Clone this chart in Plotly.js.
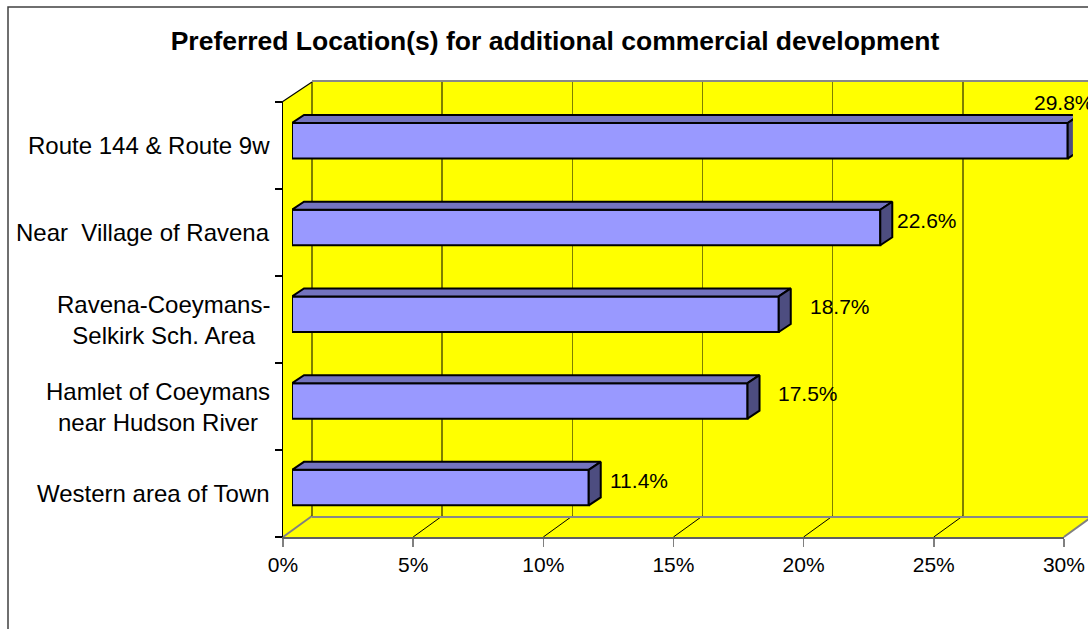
<!DOCTYPE html>
<html><head><meta charset="utf-8">
<script src="https://cdn.plot.ly/plotly-3.0.1.min.js"></script>
<style>html,body{margin:0;padding:0;background:#fff;}#chart{width:1088px;height:629px;}</style>
</head><body><div id="chart"></div>
<script>
// ---- data ----
const categories = ["Route 144 & Route 9w", "Near  Village of Ravena", "Ravena-Coeymans-<br>Selkirk Sch. Area", "Hamlet of Coeymans<br>near Hudson River", "Western area of Town"];
const values = [29.8, 22.6, 18.7, 17.5, 11.4];
const valueLabels = ["29.8%", "22.6%", "18.7%", "17.5%", "11.4%"];
const tickValues = [0, 5, 10, 15, 20, 25, 30];
const tickLabels = ["0%", "5%", "10%", "15%", "20%", "25%", "30%"];
const chartTitle = "Preferred Location(s) for additional commercial development";

// ---- layout geometry (pixels) ----
const W = 1088, H = 629;
const G = {
  scale: 26.03,          // px per percent
  frontX0: 283, frontTop: 102, frontBottom: 537,
  wallX0: 312, wallTop: 82, wallBottom: 516,
  barX0: 292, barCenter0: 140.8, barStep: 86.7, barWidth: 0.41,
  depthX: 12, depthY: 8
};
const labelDx = [-36, 15, 29, 28, 19];
const labelDy = [38, 7, 8, 7, 7];
const px = x => x / W;
const py = y => 1 - y / H;
const FONT = "Liberation Sans, Arial, sans-serif";

const idx = values.map((_, i) => i);
const dx = G.depthX / G.scale;
const dy = G.depthY / G.barStep;
const hw = G.barWidth / 2;

// 3D faces of bars (data coordinates)
const topX = [], topY = [], sideX = [], sideY = [];
values.forEach((v, i) => {
  const yt = i - hw, yb = i + hw;
  topX.push(0, v, v + dx, dx, 0, null);
  topY.push(yt, yt, yt - dy, yt - dy, yt, null);
  sideX.push(v, v + dx, v + dx, v, v, null);
  sideY.push(yt, yt - dy, yb - dy, yb, yt, null);
});

const traces = [
  {type: 'scatter', x: [], y: [], xaxis: 'x', yaxis: 'y', showlegend: false, hoverinfo: 'skip'},
  {type: 'scatter', x: [], y: [], xaxis: 'x2', yaxis: 'y2', showlegend: false, hoverinfo: 'skip'},
  {type: 'bar', orientation: 'h', x: values, y: idx, width: G.barWidth, xaxis: 'x3', yaxis: 'y3',
   marker: {color: '#9999FF', line: {color: '#000', width: 2}}, showlegend: false, hoverinfo: 'skip'},
  {type: 'scatter', mode: 'lines', x: topX, y: topY, fill: 'toself', fillcolor: '#7373BF',
   line: {color: '#000', width: 2}, xaxis: 'x3', yaxis: 'y3', showlegend: false, hoverinfo: 'skip'},
  {type: 'scatter', mode: 'lines', x: sideX, y: sideY, fill: 'toself', fillcolor: '#4D4D80',
   line: {color: '#000', width: 2}, xaxis: 'x3', yaxis: 'y3', showlegend: false, hoverinfo: 'skip'}
];

const frontX1 = G.frontX0 + 30 * G.scale;
const shapes = [];
const line = (x0, y0, x1, y1, color, width) => shapes.push({type: 'line', xref: 'paper', yref: 'paper', layer: 'below',
  x0: px(x0), y0: py(y0), x1: px(x1), y1: py(y1), line: {color: color, width: width}});
const poly = (pts, fill) => shapes.push({type: 'path', xref: 'paper', yref: 'paper', layer: 'below',
  path: 'M' + pts.map(p => px(p[0]) + ',' + py(p[1])).join('L') + 'Z', fillcolor: fill, line: {width: 0}});

// walls & floor
poly([[G.wallX0, G.wallTop], [W + 5, G.wallTop], [W + 5, G.wallBottom], [G.wallX0, G.wallBottom]], '#FFFF00');
poly([[G.frontX0 - 1, G.frontTop], [G.wallX0, G.wallTop], [G.wallX0, G.wallBottom], [G.frontX0 - 1, G.frontBottom]], '#FFFF00');
const fdx = G.wallX0 - G.frontX0, fdy = G.frontBottom - G.wallBottom;
poly([[G.frontX0, G.frontBottom], [G.wallX0, G.wallBottom], [W + 5, G.wallBottom], [frontX1 + fdx, G.wallBottom], [frontX1, G.frontBottom]], '#FFFF00');
line(G.frontX0 - 1, G.frontTop, G.wallX0, G.wallTop, '#000', 1.2);
tickValues.forEach((t, k) => {
  const xf = G.frontX0 + t * G.scale;
  const edge = (k === 0 || k === tickValues.length - 1);
  line(xf, G.frontBottom, xf + fdx, G.wallBottom, edge ? '#808080' : '#000', edge ? 2 : 1);
});
// outer frame
shapes.push({type: 'rect', xref: 'paper', yref: 'paper', layer: 'below', x0: px(8), y0: py(7), x1: 1.05, y1: -0.05,
  line: {color: '#404040', width: 1.5}, fillcolor: 'rgba(0,0,0,0)'});

const annotations = [];
categories.forEach((c, i) => annotations.push({text: c, xref: 'paper', yref: 'y2', x: px(272), y: i,
  xanchor: 'right', yanchor: 'middle', align: 'center', showarrow: false, font: {family: FONT, size: 24, color: '#000'}}));
values.forEach((v, i) => annotations.push({text: valueLabels[i], xref: 'x3', yref: 'y3', x: v, y: i,
  xanchor: 'left', yanchor: 'middle', xshift: labelDx[i], yshift: labelDy[i], showarrow: false,
  font: {family: FONT, size: 21, color: '#000'}}));

const layout = {
  width: W, height: H, autosize: false,
  margin: {l: 0, r: 0, t: 0, b: 0, pad: 0},
  paper_bgcolor: '#fff', plot_bgcolor: 'rgba(0,0,0,0)',
  showlegend: false,
  font: {family: FONT, size: 20, color: '#000'},
  title: {text: '<b>' + chartTitle + '</b>', x: px(555), xanchor: 'center', y: py(41), yanchor: 'middle',
    font: {family: FONT, size: 26.5, color: '#000'}},
  // back wall
  xaxis: {domain: [px(G.wallX0), 1], range: [0, (W - G.wallX0) / G.scale], anchor: 'y',
    tickvals: tickValues, showgrid: true, gridcolor: 'rgba(0,0,0,0.5)', gridwidth: 1.5,
    zeroline: true, zerolinecolor: 'rgba(0,0,0,0.5)', zerolinewidth: 1.5,
    showline: true, mirror: true, linecolor: '#888', linewidth: 2, showticklabels: false, ticks: '', automargin: false},
  yaxis: {domain: [py(G.wallBottom), py(G.wallTop)], range: [0, 1], anchor: 'x', showgrid: false, zeroline: false,
    showline: false, showticklabels: false, ticks: '', automargin: false},
  // front plane axes
  xaxis2: {domain: [px(G.frontX0), px(frontX1)], range: [0, 30], anchor: 'y2', tickvals: tickValues, ticktext: tickLabels,
    ticks: 'outside', ticklen: 8, tickcolor: '#808080', tickwidth: 1.5, showline: true, linecolor: '#606060', linewidth: 2,
    showgrid: false, zeroline: false, tickfont: {family: FONT, size: 21, color: '#000'}, automargin: false},
  yaxis2: {domain: [py(G.frontBottom), py(G.frontTop)], range: [categories.length - 0.5, -0.5], anchor: 'x2',
    tickvals: [-0.5, 0.5, 1.5, 2.5, 3.5, 4.5], ticks: 'outside', ticklen: 7, tickcolor: '#000', tickwidth: 1.2,
    showticklabels: false, showline: true, linecolor: '#000', linewidth: 1.5, showgrid: false, zeroline: false, automargin: false},
  // bars
  xaxis3: {domain: [px(G.barX0), px(G.barX0 + 30 * G.scale)], range: [0, 30], anchor: 'y3', visible: false},
  yaxis3: {domain: [py(G.barCenter0 + 4.5 * G.barStep), py(G.barCenter0 - 0.5 * G.barStep)],
    range: [categories.length - 0.5, -0.5], anchor: 'x3', visible: false},
  shapes: shapes,
  annotations: annotations
};

Plotly.newPlot('chart', traces, layout, {staticPlot: true, displayModeBar: false});
</script></body></html>
